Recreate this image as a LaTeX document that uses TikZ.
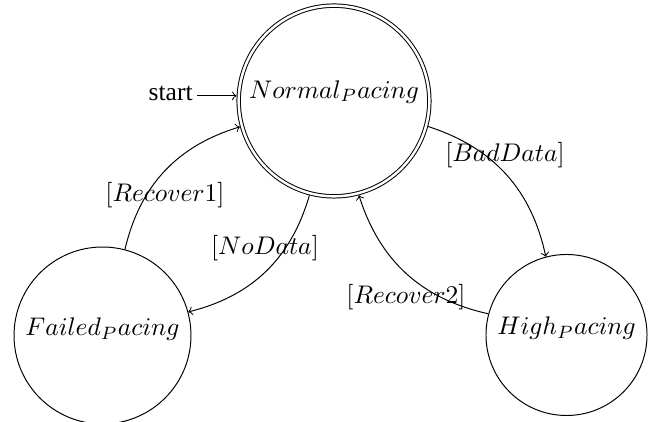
\documentclass[tikz,border=0pt]{standalone}
\usepackage{fix-cm}
\usepackage{fontspec}
\setmainfont{Liberation Serif}
\begin{document}
\begin{tikzpicture}[x=0.408pt,y=0.408pt,>=to,
  font=\fontsize{10.4pt}{12.5pt}\selectfont,
  statebox/.style={circle,draw,line width=0.4pt,inner sep=0pt},
  lbl/.style={inner sep=0pt},
  conn/.style={->,line width=0.4pt}]
\useasboundingbox (0,0) rectangle (656,422);
\node[statebox,double,double distance=1pt,outer sep=0.9pt,minimum size=77.8pt] (normal) at (334,321)
  {\raisebox{1.2pt}[0pt][0pt]{$Normal_Pacing$}};
\node[statebox,minimum size=72.2pt] (failed) at (102.5,86.5)
  {\raisebox{0pt}[0pt][0pt]{$Failed_Pacing$}};
\node[statebox,minimum size=65.7pt] (high) at (566.5,87)
  {\raisebox{0pt}[0pt][0pt]{$High_Pacing$}};
\node[anchor=base east,inner sep=1.6pt] (start) at (197,321.3) {start};
\coordinate (sa) at ([yshift=2pt]start.base east);
\draw[conn] (sa) -- (sa -| normal.west);
\draw[conn] (normal) to[bend left] (high);
\draw[conn] (high) to[bend left] (normal);
\draw[conn] (failed) to[bend left] (normal);
\draw[conn] (normal) to[bend left] (failed);
\node[lbl] (l1) at (165,227) {$[Recover1]$};
\node[lbl] (l2) at (265,174) {$[NoData]$};
\node[lbl] (l3) at (505,267) {$[BadData]$};
\node[lbl] (l4) at (406,125) {$[Recover2]$};
\end{tikzpicture}
\end{document}
